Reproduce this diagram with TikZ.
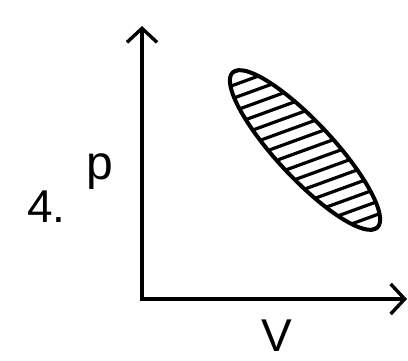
\documentclass[tikz,border=0pt]{standalone}
\usepackage{fontspec}
\setmainfont{Liberation Sans}
\usetikzlibrary{arrows.meta,calc}

\begin{document}
\begin{tikzpicture}[x=1pt,y=1pt,
  axis/.style={line width=3.8pt,-{Straight Barb[length=14pt,width=30pt,line width=3.4pt]}},
  loop/.style={line width=4pt},
  hatch/.style={line width=3.2pt},
  lab/.style={inner sep=0pt,anchor=base}]
\useasboundingbox (0,0) rectangle (408,360);
\coordinate (O) at (142,61);
\coordinate (ytop) at (142,334);
\coordinate (xend) at (407,61);
\coordinate (c) at (305,210);
\draw[axis] ([yshift=-1.9pt]O) -- (ytop);
\draw[axis] ([xshift=-1.9pt]O) -- (xend);
\begin{scope}
  \clip[rotate around={-47:(c)}] (c) ellipse [x radius=106, y radius=28];
  \foreach \k in {-10,...,10}
    \draw[hatch,rotate around={20:(c)}] ($(c)+(-120,\k*12.2)$) -- ++(240,0);
\end{scope}
\draw[loop,rotate around={-47:(c)}] (c) ellipse [x radius=106, y radius=28];
\node[lab,anchor=base west,font=\fontsize{46}{46}\selectfont] (num) at (27,138) {4.};
\node[lab,anchor=base west,font=\fontsize{48}{48}\selectfont] (plab) at (86,181) {p};
\node[lab,font=\fontsize{46}{46}\selectfont] (vlab) at (277,9) {V};
\end{tikzpicture}
\end{document}
